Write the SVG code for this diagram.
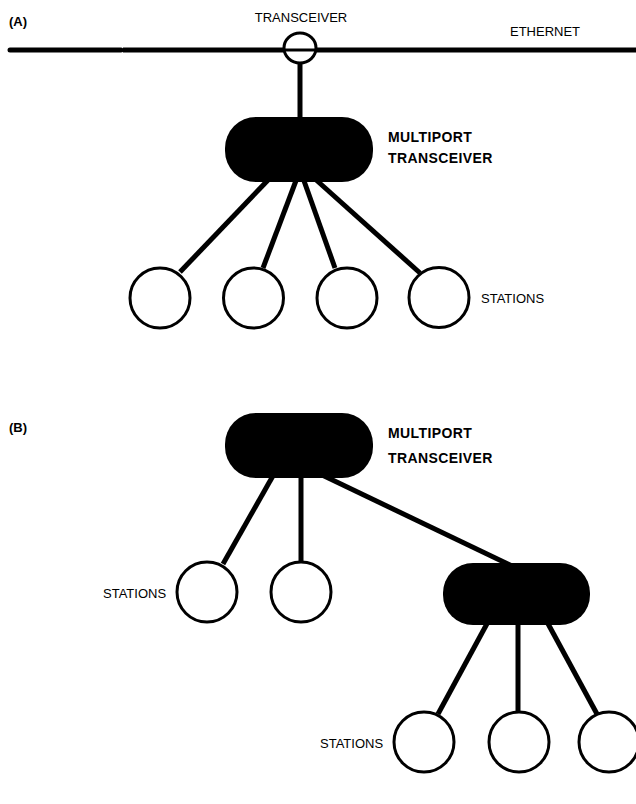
<svg xmlns="http://www.w3.org/2000/svg" width="636" height="804" viewBox="0 0 636 804">
<style>
.lbl{font-family:"Liberation Sans",Arial,sans-serif;font-size:13px;fill:#000}
.bold{font-family:"Liberation Sans",Arial,sans-serif;font-size:14px;font-weight:bold;letter-spacing:0.4px;fill:#000}
.tag{font-family:"Liberation Sans",Arial,sans-serif;font-size:13px;font-weight:bold;fill:#000}
.wire{stroke:#000;stroke-width:5;fill:none}
.pill{fill:#000}
.stn{fill:#fff;stroke:#000;stroke-width:3}
</style>
<rect width="636" height="804" fill="#fff"/>
<text class="tag" x="9" y="26">(A)</text>
<text class="tag" x="9" y="432">(B)</text>
<g id="connectors">
<line class="wire" x1="10" y1="50" x2="121" y2="50" stroke-linecap="round"/>
<line class="wire" x1="123" y1="50" x2="636" y2="50"/>
<line class="wire" x1="300" y1="62" x2="300" y2="125"/>
<line class="wire" x1="270" y1="178" x2="180" y2="272"/>
<line class="wire" x1="297" y1="178" x2="263" y2="268"/>
<line class="wire" x1="303" y1="178" x2="335" y2="268"/>
<line class="wire" x1="314" y1="178" x2="420" y2="273"/>
<line class="wire" x1="274" y1="474" x2="223" y2="564"/>
<line class="wire" x1="301" y1="474" x2="301" y2="563"/>
<line class="wire" x1="320" y1="474" x2="512" y2="566"/>
<line class="wire" x1="489" y1="620" x2="438" y2="714"/>
<line class="wire" x1="518" y1="620" x2="518" y2="712"/>
<line class="wire" x1="546" y1="620" x2="597" y2="714"/>
</g>
<g id="transceiver">
<ellipse cx="300" cy="48" rx="16" ry="15" fill="#fff" stroke="#000" stroke-width="3"/>
<line x1="285" y1="50" x2="315" y2="50" stroke="#000" stroke-width="3"/>
<text class="lbl" x="301" y="22" text-anchor="middle">TRANSCEIVER</text>
</g>
<text class="lbl" x="510" y="36">ETHERNET</text>
<g id="mpA">
<rect class="pill" x="225" y="117" width="148" height="65" rx="31" ry="31"/>
<text class="bold" x="388" y="142">MULTIPORT</text>
<text class="bold" x="388" y="163">TRANSCEIVER</text>
</g>
<g id="stationsA">
<circle class="stn" cx="160" cy="298" r="30"/>
<circle class="stn" cx="253.5" cy="298" r="30"/>
<circle class="stn" cx="347" cy="298" r="30"/>
<circle class="stn" cx="439" cy="297.5" r="30"/>
<text class="lbl" x="481" y="303">STATIONS</text>
</g>
<g id="mpB1">
<rect class="pill" x="225" y="413" width="148" height="65" rx="31" ry="31"/>
<text class="bold" x="388" y="438">MULTIPORT</text>
<text class="bold" x="388" y="463">TRANSCEIVER</text>
</g>
<g id="stationsB1">
<circle class="stn" cx="207" cy="592" r="30"/>
<circle class="stn" cx="301" cy="592" r="30"/>
<text class="lbl" x="103" y="598">STATIONS</text>
</g>
<g id="mpB2">
<rect class="pill" x="443" y="563" width="147" height="62" rx="30" ry="30"/>
</g>
<g id="stationsB2">
<circle class="stn" cx="424" cy="742" r="30"/>
<circle class="stn" cx="519" cy="742" r="30"/>
<circle class="stn" cx="609" cy="742" r="30"/>
<text class="lbl" x="320" y="748">STATIONS</text>
</g>
</svg>
